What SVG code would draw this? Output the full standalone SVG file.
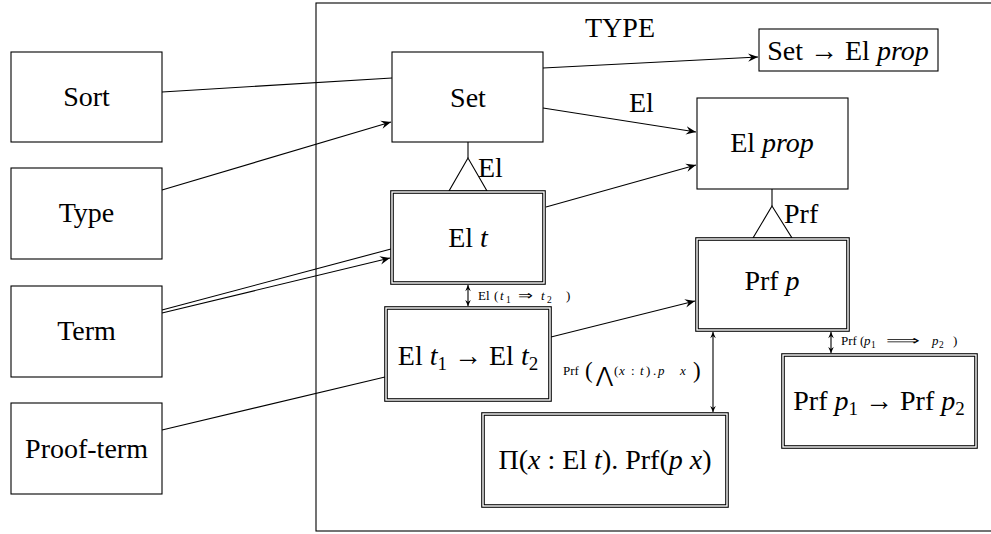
<svg xmlns="http://www.w3.org/2000/svg" width="991" height="534" viewBox="0 0 991 534">
<style>
.box{fill:#fff;stroke:#000;stroke-width:1.1}
.dbl{fill:#fff;stroke:#000;stroke-width:3.6}
.dblin{fill:none;stroke:#fff;stroke-width:1.4}
text{font-family:'Liberation Serif','DejaVu Serif',serif;fill:#000}
.t{font-size:28px;text-anchor:middle}
.s{font-size:13px}
.sub{font-size:9.5px}
.l{font-size:28px}
.i{font-style:italic}
.sym{font-family:'DejaVu Sans',sans-serif;font-size:13px}
.big{font-family:'DejaVu Sans',sans-serif;font-size:21px}
.c{fill:none;stroke:#000;stroke-width:1.1}
.tri{fill:#fff;stroke:#000;stroke-width:1.1}
</style>
<defs>
<marker id="ah" viewBox="-10 -5 11 10" refX="0" refY="0" markerWidth="11" markerHeight="10" markerUnits="userSpaceOnUse" orient="auto-start-reverse">
<path d="M0,0 L-10,-4.2 L-6.5,0 L-10,4.2 Z" fill="#000"/>
</marker>
<marker id="sh" viewBox="-8 -4 9 8" refX="0" refY="0" markerWidth="8" markerHeight="7" markerUnits="userSpaceOnUse" orient="auto-start-reverse">
<path d="M0,0 L-7,-3.2 L-4.5,0 L-7,3.2 Z" fill="#000"/>
</marker>
</defs>

<rect id="frame" x="316" y="3" width="690" height="528" fill="none" stroke="#000" stroke-width="1.1"/>
<text class="t" x="620" y="37">TYPE</text>

<g id="connectors">
<line class="c" x1="162" y1="92" x2="392" y2="78"/>
<line class="c" x1="162" y1="190" x2="391" y2="122" marker-end="url(#ah)"/>
<line class="c" x1="162" y1="310" x2="391" y2="249"/>
<line class="c" x1="162" y1="313" x2="390" y2="258" marker-end="url(#ah)"/>
<line class="c" x1="162" y1="430" x2="385" y2="377"/>
<line class="c" x1="543" y1="68" x2="758" y2="57" marker-end="url(#ah)"/>
<line class="c" x1="543" y1="108" x2="696" y2="132" marker-end="url(#ah)"/>
<line class="c" x1="546" y1="207" x2="696" y2="165" marker-end="url(#ah)"/>
<line class="c" x1="551" y1="337" x2="695" y2="301" marker-end="url(#ah)"/>
<line class="c" x1="468" y1="142" x2="468" y2="158"/>
<polygon class="tri" points="468,158 449,191 487,191"/>
<line class="c" x1="772" y1="189" x2="772" y2="206"/>
<polygon class="tri" points="772,206 753,238 792,238"/>
<line class="c" x1="468" y1="285" x2="468" y2="306" marker-start="url(#sh)" marker-end="url(#sh)"/>
<line class="c" x1="713" y1="332" x2="713" y2="412" marker-start="url(#sh)" marker-end="url(#sh)"/>
<line class="c" x1="831" y1="332" x2="831" y2="353" marker-start="url(#sh)" marker-end="url(#sh)"/>
<text class="l" x="629" y="112">El</text>
<text class="l" x="478" y="177">El</text>
<text class="l" x="784" y="223">Prf</text>
<text class="s" y="300"><tspan x="478">El</tspan><tspan x="494">(</tspan><tspan x="500" class="i">t</tspan><tspan x="506" class="sub" dy="3">1</tspan><tspan x="541" dy="-3" class="i">t</tspan><tspan x="547" class="sub" dy="3">2</tspan><tspan x="566" dy="-3">)</tspan></text>
<text class="sym" x="518" y="300" textLength="15" lengthAdjust="spacingAndGlyphs">⇒</text>
<text class="s" y="345"><tspan x="841">Prf</tspan><tspan x="860">(</tspan><tspan x="864" class="i">p</tspan><tspan x="871" class="sub" dy="3">1</tspan><tspan x="932" dy="-3" class="i">p</tspan><tspan x="939" class="sub" dy="3">2</tspan><tspan x="953" dy="-3">)</tspan></text>
<text class="sym" x="886" y="345" textLength="34" lengthAdjust="spacingAndGlyphs">⟹</text>
<text class="s" y="375"><tspan x="563">Prf</tspan><tspan x="585" font-size="23" dy="3">(</tspan><tspan x="614" dy="-3">(</tspan><tspan x="619" class="i">x</tspan><tspan x="631">:</tspan><tspan x="640" class="i">t</tspan><tspan x="646">)</tspan><tspan x="653">.</tspan><tspan x="658" class="i">p</tspan><tspan x="680" class="i">x</tspan><tspan x="693" font-size="23" dy="3">)</tspan></text>
<text class="big" x="596" y="382" textLength="17" lengthAdjust="spacingAndGlyphs">⋀</text>
</g>

<g id="sort"><rect class="box" x="11" y="52" width="151" height="90"/><text class="t" x="86.5" y="106">Sort</text></g>
<g id="type"><rect class="box" x="11" y="168" width="151" height="91"/><text class="t" x="86.5" y="222">Type</text></g>
<g id="term"><rect class="box" x="11" y="286" width="151" height="91"/><text class="t" x="86.5" y="340">Term</text></g>
<g id="proofterm"><rect class="box" x="11" y="403" width="151" height="91"/><text class="t" x="86.5" y="458">Proof-term</text></g>

<g id="set"><rect class="box" x="392" y="52" width="151" height="90"/><text class="t" x="468" y="107">Set</text></g>
<g id="set-elprop"><rect class="box" x="759" y="29" width="179" height="42"/><text class="t" x="848" y="60">Set → El <tspan class="i">prop</tspan></text></g>
<g id="elprop"><rect class="box" x="697" y="98" width="151" height="91"/><text class="t" x="772" y="152">El <tspan class="i">prop</tspan></text></g>

<g id="elt"><rect class="dbl" x="392" y="192" width="152" height="91"/><rect class="dblin" x="392" y="192" width="152" height="91"/><text class="t" x="468" y="247">El <tspan class="i">t</tspan></text></g>
<g id="elt1elt2"><rect class="dbl" x="386" y="308" width="164" height="92"/><rect class="dblin" x="386" y="308" width="164" height="92"/><text class="t" x="468" y="365">El <tspan class="i">t</tspan><tspan font-size="19" dy="5">1</tspan><tspan dy="-5"> → El </tspan><tspan class="i">t</tspan><tspan font-size="19" dy="5">2</tspan></text></g>
<g id="prfp"><rect class="dbl" x="697" y="239" width="151" height="91"/><rect class="dblin" x="697" y="239" width="151" height="91"/><text class="t" x="772" y="290">Prf <tspan class="i">p</tspan></text></g>
<g id="prfp1p2"><rect class="dbl" x="783" y="355" width="193" height="92"/><rect class="dblin" x="783" y="355" width="193" height="92"/><text class="t" x="879" y="410">Prf <tspan class="i">p</tspan><tspan font-size="19" dy="5">1</tspan><tspan dy="-5"> → Prf </tspan><tspan class="i">p</tspan><tspan font-size="19" dy="5">2</tspan></text></g>
<g id="pi"><rect class="dbl" x="483" y="414" width="244" height="92"/><rect class="dblin" x="483" y="414" width="244" height="92"/><text class="t" x="605" y="469">Π(<tspan class="i">x</tspan> : El <tspan class="i">t</tspan>). Prf(<tspan class="i">p</tspan> <tspan class="i">x</tspan>)</text></g>
</svg>
